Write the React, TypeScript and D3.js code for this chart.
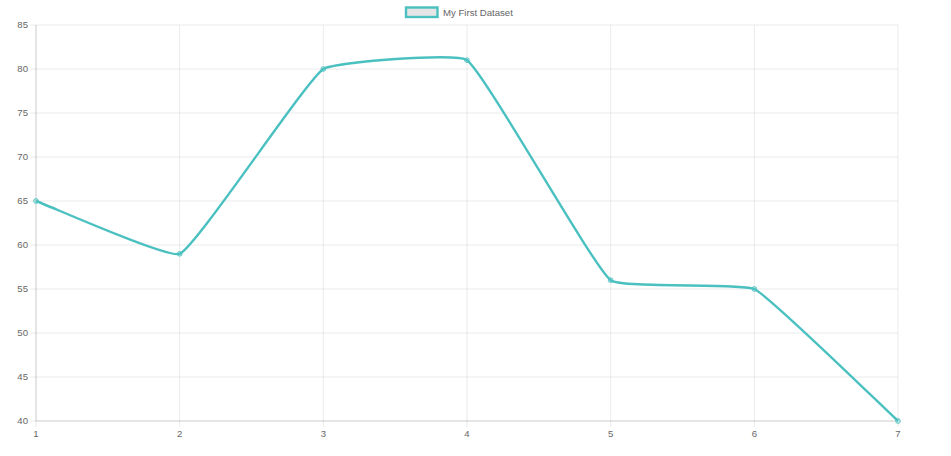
import * as d3 from "d3";

const labels = ["1", "2", "3", "4", "5", "6", "7"];
const values = [65, 59, 80, 81, 56, 55, 40];
const yTicks = [40, 45, 50, 55, 60, 65, 70, 75, 80, 85];
const seriesName = "My First Dataset";

const width = 951;
const height = 456;
const marginLeft = 36;
const marginRight = 53;
const marginTop = 25;
const marginBottom = 35;
const teal = "rgb(75,192,192)";
const font = "'Liberation Sans', Arial, Helvetica, sans-serif";

type P = { x: number; y: number };

// chart.js style spline with tension
function splinePath(pts: P[], t: number) {
  const cps = pts.map((cur, i) => {
    const prev = pts[i - 1] ?? cur;
    const next = pts[i + 1] ?? cur;
    const d01 = Math.hypot(cur.x - prev.x, cur.y - prev.y);
    const d12 = Math.hypot(next.x - cur.x, next.y - cur.y);
    let s01 = d01 / (d01 + d12);
    let s12 = d12 / (d01 + d12);
    if (isNaN(s01)) s01 = 0;
    if (isNaN(s12)) s12 = 0;
    const fa = t * s01;
    const fb = t * s12;
    return {
      prev: { x: cur.x - fa * (next.x - prev.x), y: cur.y - fa * (next.y - prev.y) },
      next: { x: cur.x + fb * (next.x - prev.x), y: cur.y + fb * (next.y - prev.y) },
    };
  });
  const path = d3.path();
  path.moveTo(pts[0].x, pts[0].y);
  for (let i = 1; i < pts.length; i++) {
    const a = cps[i - 1].next;
    const b = cps[i].prev;
    path.bezierCurveTo(a.x, a.y, b.x, b.y, pts[i].x, pts[i].y);
  }
  return path.toString();
}

const App = () => {
  const x = d3
    .scalePoint()
    .domain(labels)
    .range([marginLeft, width - marginRight]);

  const y = d3
    .scaleLinear()
    .domain([40, 85])
    .range([height - marginBottom, marginTop]);

  const pts = values.map((v, i) => ({ x: x(labels[i])!, y: y(v) }));

  return (
    <svg
      width={width}
      height={height}
      viewBox={`0 0 ${width} ${height}`}
      style={{ position: "absolute", left: 0, top: 0, background: "#fff" }}
      fontFamily={font}
    >
      {/* grid */}
      <g stroke="rgba(0,0,0,0.08)" strokeWidth={1}>
        {yTicks.map((t) => (
          <line key={"h" + t} x1={marginLeft - 6} x2={width - marginRight} y1={y(t)} y2={y(t)} />
        ))}
        {labels.map((l) => (
          <line key={"v" + l} x1={x(l)} x2={x(l)} y1={marginTop} y2={height - marginBottom + 6} />
        ))}
      </g>
      <line x1={marginLeft} x2={marginLeft} y1={marginTop} y2={height - marginBottom} stroke="rgba(0,0,0,0.13)" />
      <line x1={marginLeft} x2={width - marginRight} y1={y(40)} y2={y(40)} stroke="rgba(0,0,0,0.13)" />

      {/* y labels */}
      <g fontSize={9.6} fill="#666" textAnchor="end">
        {yTicks.map((t) => (
          <text key={t} x={marginLeft - 8} y={y(t)} dy="0.35em">
            {t}
          </text>
        ))}
      </g>
      {/* x labels */}
      <g fontSize={9.6} fill="#666" textAnchor="middle">
        {labels.map((l) => (
          <text key={l} x={x(l)} y={height - marginBottom + 13} dy="0.35em">
            {l}
          </text>
        ))}
      </g>

      {/* series */}
      <path d={splinePath(pts, 0.1)} fill="none" stroke={teal} strokeWidth={2.4} />
      {pts.map((p, i) => (
        <circle key={i} cx={p.x} cy={p.y} r={2.4} fill="rgba(75,192,192,0.35)" stroke={teal} strokeWidth={0.8} />
      ))}

      {/* legend */}
      <rect x={406} y={7.5} width={31.5} height={9.5} fill="rgba(0,0,0,0.1)" stroke={teal} strokeWidth={2.4} />
      <text x={443} y={12.3} dy="0.35em" fontSize={9.6} fill="#666">
        {seriesName}
      </text>
    </svg>
  );
};

export default App;
